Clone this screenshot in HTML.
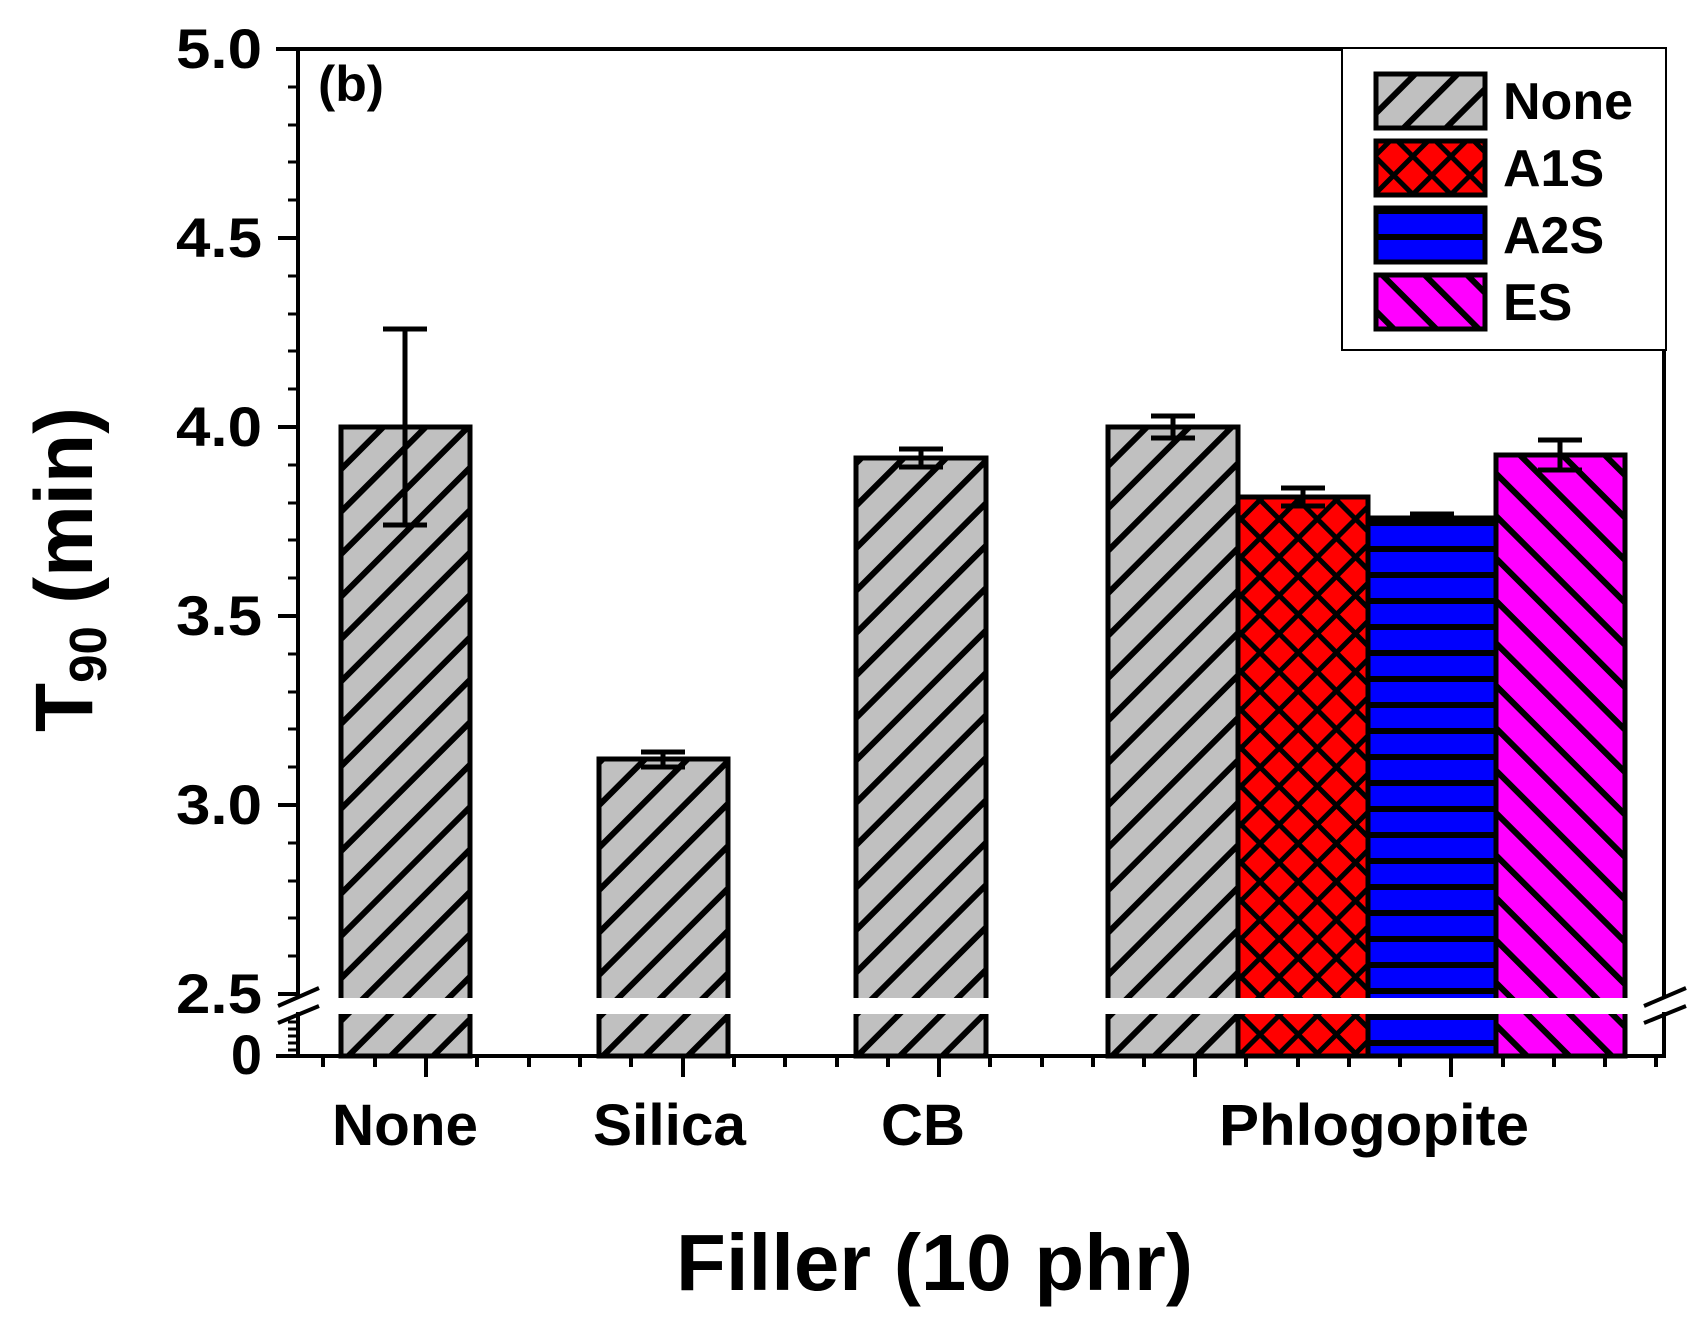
<!DOCTYPE html>
<html><head><meta charset="utf-8"><style>
html,body{margin:0;padding:0;background:#fff;}
svg{display:block;}
text{font-family:"Liberation Sans",Arial,sans-serif;font-weight:bold;fill:#000;}
</style></head><body>
<svg width="1706" height="1332" viewBox="0 0 1706 1332" xmlns="http://www.w3.org/2000/svg">
<defs>
<pattern id="pGray" patternUnits="userSpaceOnUse" width="30" height="30" patternTransform="rotate(45)">
<rect width="30" height="30" fill="#c0c0c0"/><rect x="0" y="0" width="6" height="30" fill="#000"/></pattern>
<pattern id="pMag" patternUnits="userSpaceOnUse" width="30" height="30" patternTransform="rotate(-45)">
<rect width="30" height="30" fill="#ff00ff"/><rect x="0" y="0" width="6" height="30" fill="#000"/></pattern>
<pattern id="pRed" patternUnits="userSpaceOnUse" width="27" height="27" patternTransform="rotate(45)">
<rect width="27" height="27" fill="#ff0000"/><rect x="0" y="0" width="5" height="27" fill="#000"/><rect x="0" y="0" width="27" height="5" fill="#000"/></pattern>
<pattern id="pBlue" patternUnits="userSpaceOnUse" width="26" height="26">
<rect width="26" height="26" fill="#0000ff"/><rect x="0" y="0" width="26" height="6" fill="#000"/></pattern>
</defs>

<g stroke="#000" stroke-width="5">
<rect x="341" y="427" width="129" height="629" fill="url(#pGray)"/>
<rect x="599" y="759" width="129" height="297" fill="url(#pGray)"/>
<rect x="856" y="458" width="130" height="598" fill="url(#pGray)"/>
<rect x="1108" y="427" width="130" height="629" fill="url(#pGray)"/>
<rect x="1238" y="497" width="130" height="559" fill="url(#pRed)"/>
<rect x="1368" y="518" width="128" height="538" fill="url(#pBlue)"/>
<rect x="1496" y="455" width="129" height="601" fill="url(#pMag)"/>
</g>

<rect x="299" y="998" width="1364" height="16" fill="#fff"/>

<g stroke="#000" stroke-width="5" fill="none">
<path d="M405 329V525M383 329H427M383 525H427"/>
<path d="M663 752V767M641 752H685M641 767H685"/>
<path d="M921 449V467M899 449H943M899 467H943"/>
<path d="M1173 416V438M1151 416H1195M1151 438H1195"/>
<path d="M1303 488V506M1281 488H1325M1281 506H1325"/>
<path d="M1432 514V522M1410 514H1454M1410 522H1454"/>
<path d="M1560 440V470M1538 440H1582M1538 470H1582"/>
</g>

<g stroke="#000" stroke-width="4" fill="none">
<path d="M298 47V996M298 1012V1058"/>
<path d="M1664 47V996M1664 1012V1058"/>
<path d="M276 49H1342"/>
<path d="M276 1056H1666"/>
<path d="M278 238H298M278 427H298M278 616H298M278 805H298M278 994H298"/>
</g>
<g stroke="#000" stroke-width="3" fill="none">
<path d="M288 87H298M288 125H298M288 162H298M288 200H298M288 276H298M288 314H298M288 351H298M288 389H298M288 465H298M288 503H298M288 540H298M288 578H298M288 654H298M288 692H298M288 729H298M288 767H298M288 843H298M288 881H298M288 918H298M288 956H298"/>
<path d="M288 1022H298M288 1029H298M288 1036H298M288 1043H298M288 1050H298"/>
</g>
<g stroke="#000" stroke-width="4" fill="none">
<path d="M426 1056V1077M683 1056V1077M939 1056V1077M1195 1056V1077M1451 1056V1077"/>
<path d="M323 1056V1067M375 1056V1067M477 1056V1067M529 1056V1067M580 1056V1067M631 1056V1067M734 1056V1067M785 1056V1067M837 1056V1067M888 1056V1067M990 1056V1067M1042 1056V1067M1093 1056V1067M1144 1056V1067M1246 1056V1067M1298 1056V1067M1349 1056V1067M1400 1056V1067M1503 1056V1067M1554 1056V1067M1605 1056V1067M1656 1056V1067"/>
<path d="M278 1006L319 988M278 1023L319 1006"/>
<path d="M1644 1006L1686 988M1644 1023L1686 1006"/>
</g>

<g font-size="56" text-anchor="end">
<text x="262" y="68" textLength="86" lengthAdjust="spacingAndGlyphs">5.0</text>
<text x="262" y="257" textLength="86" lengthAdjust="spacingAndGlyphs">4.5</text>
<text x="262" y="446" textLength="86" lengthAdjust="spacingAndGlyphs">4.0</text>
<text x="262" y="635" textLength="86" lengthAdjust="spacingAndGlyphs">3.5</text>
<text x="262" y="824" textLength="86" lengthAdjust="spacingAndGlyphs">3.0</text>
<text x="262" y="1013" textLength="86" lengthAdjust="spacingAndGlyphs">2.5</text>
<text x="262" y="1074">0</text>
</g>

<text x="318" y="101" font-size="50" textLength="66" lengthAdjust="spacingAndGlyphs">(b)</text>

<g font-size="58">
<text x="332" y="1145" textLength="146" lengthAdjust="spacingAndGlyphs">None</text>
<text x="593" y="1145" textLength="153" lengthAdjust="spacingAndGlyphs">Silica</text>
<text x="881" y="1145" textLength="84" lengthAdjust="spacingAndGlyphs">CB</text>
<text x="1219" y="1145" textLength="310" lengthAdjust="spacingAndGlyphs">Phlogopite</text>
</g>
<text x="676" y="1290" font-size="80" textLength="517" lengthAdjust="spacingAndGlyphs">Filler (10 phr)</text>
<text transform="translate(92,732) rotate(-90)" font-size="82" textLength="325" lengthAdjust="spacingAndGlyphs">T<tspan font-size="52" dy="14">90</tspan><tspan dy="-14"> (min)</tspan></text>

<rect x="1342" y="48" width="324" height="302" fill="#fff" stroke="#000" stroke-width="2"/>
<g stroke="#000" stroke-width="5">
<rect x="1376" y="74" width="109" height="54" fill="url(#pGray)"/>
<rect x="1376" y="141" width="109" height="54" fill="url(#pRed)"/>
<rect x="1376" y="208" width="109" height="54" fill="url(#pBlue)"/>
<rect x="1376" y="275" width="109" height="54" fill="url(#pMag)"/>
</g>
<g font-size="52">
<text x="1503" y="119">None</text>
<text x="1503" y="186">A1S</text>
<text x="1503" y="253">A2S</text>
<text x="1503" y="320">ES</text>
</g>
</svg>
</body></html>
